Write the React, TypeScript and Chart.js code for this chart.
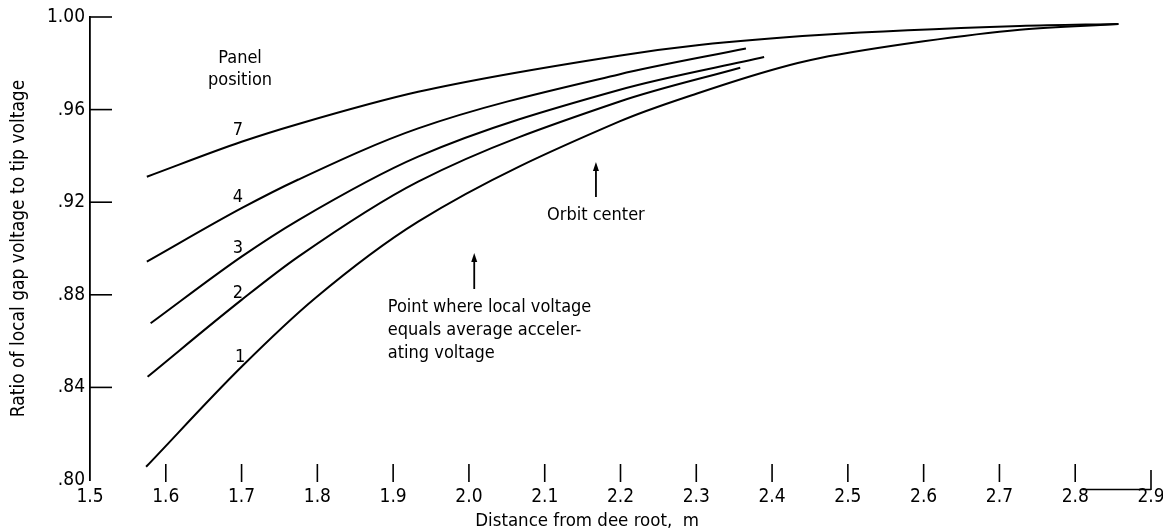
import { useEffect, useRef } from "react";
import { Chart, registerables } from "chart.js";

Chart.register(...registerables);

const FONT = "'DejaVu Sans Condensed', 'Liberation Sans Narrow', 'DejaVu Sans', sans-serif";

const xTickValues = [1.5, 1.6, 1.7, 1.8, 1.9, 2.0, 2.1, 2.2, 2.3, 2.4, 2.5, 2.6, 2.7, 2.8, 2.9];
const xTickLabels = ["1.5", "1.6", "1.7", "1.8", "1.9", "2.0", "2.1", "2.2", "2.3", "2.4", "2.5", "2.6", "2.7", "2.8", "2.9"];
const yTickValues = [0.8, 0.84, 0.88, 0.92, 0.96, 1.0];
const yTickLabels = [".80", ".84", ".88", ".92", ".96", "1.00"];

// Panel position 7
const p7X = [1.575, 1.7, 1.775, 1.933, 2.198, 2.304, 2.462, 2.727, 2.857];
const p7Y = [0.931, 0.9461, 0.9538, 0.9677, 0.9833, 0.9879, 0.9922, 0.9961, 0.997];
// Panel position 4
const p4X = [1.575, 1.7, 1.775, 1.933, 2.198, 2.3655];
const p4Y = [0.8943, 0.9174, 0.9298, 0.9519, 0.9752, 0.9864];
// Panel position 3
const p3X = [1.58, 1.7, 1.775, 1.933, 2.198, 2.3895];
const p3Y = [0.8677, 0.8965, 0.9123, 0.9397, 0.9685, 0.9827];
// Panel position 2
const p2X = [1.576, 1.7, 1.775, 1.933, 2.198, 2.358];
const p2Y = [0.8446, 0.8778, 0.8965, 0.9289, 0.9634, 0.9781];
// Panel position 1
const p1X = [1.574, 1.7, 1.797, 1.933, 2.198, 2.304, 2.409, 2.462, 2.6, 2.727, 2.857];
const p1Y = [0.8057, 0.8489, 0.8785, 0.9116, 0.9548, 0.9673, 0.978, 0.9822, 0.9895, 0.9945, 0.997];

const seriesX = [p7X, p4X, p3X, p2X, p1X];
const seriesY = [p7Y, p4Y, p3Y, p2Y, p1Y];
const seriesNames = ["7", "4", "3", "2", "1"];

// Curve labels (x, baseline y in data units)
const curveLabelX = [1.6953, 1.6953, 1.6953, 1.6953, 1.698];
const curveLabelY = [0.949, 0.9202, 0.8979, 0.8785, 0.851];

const panelTitle = ["Panel", "position"];
const panelTitleX = 1.698;
const panelTitleY = [0.98, 0.9706];

const pointNote = ["Point where local voltage", "equals average acceler-", "ating voltage"];
const pointNoteX = 1.893;
const pointNoteY = [0.8727, 0.8626, 0.8526];
const pointArrowX = 2.007;
const pointArrowY = [0.8825, 0.8981];

const orbitNote = "Orbit center";
const orbitNoteX = 2.103;
const orbitNoteY = 0.9123;
const orbitArrowX = 2.1676;
const orbitArrowY = [0.92225, 0.93737];

const xTitle = "Distance from dee root,  m";
const xTitleX = 2.156;
const yTitle = "Ratio of local gap voltage to tip voltage";

export default function App() {
  const ref = useRef<HTMLCanvasElement | null>(null);

  useEffect(() => {
    const canvas = ref.current;
    if (!canvas) return;

    const decor = {
      id: "decor",
      afterDraw(chart: any) {
        const ctx = chart.ctx as CanvasRenderingContext2D;
        const xs = chart.scales.x;
        const ys = chart.scales.y;
        const area = chart.chartArea;
        ctx.save();
        ctx.strokeStyle = "#000";
        ctx.fillStyle = "#000";
        ctx.lineWidth = 1.6;
        // y tick marks (inward)
        yTickValues.forEach((v) => {
          if (v === yTickValues[0]) return;
          const py = ys.getPixelForValue(v);
          ctx.beginPath();
          ctx.moveTo(area.left, py);
          ctx.lineTo(area.left + 22, py);
          ctx.stroke();
        });
        // x tick marks
        xTickValues.forEach((v, i) => {
          if (i === 0) return;
          const px = xs.getPixelForValue(v);
          const last = i === xTickValues.length - 1;
          ctx.beginPath();
          ctx.moveTo(px, area.bottom - (last ? 10 : 16));
          ctx.lineTo(px, area.bottom + (last ? 10 : 2));
          ctx.stroke();
        });
        // bracket between 2.8 and 2.9
        {
          const a = xs.getPixelForValue(xTickValues[xTickValues.length - 2]) + 7;
          const b = xs.getPixelForValue(xTickValues[xTickValues.length - 1]);
          ctx.lineWidth = 1.3;
          ctx.beginPath();
          ctx.moveTo(a, area.bottom + 9.5);
          ctx.lineTo(b, area.bottom + 9.5);
          ctx.stroke();
        }
        // texts
        ctx.font = `18px ${FONT}`;
        ctx.textBaseline = "alphabetic";
        ctx.textAlign = "center";
        seriesNames.forEach((n, i) => {
          ctx.fillText(n, xs.getPixelForValue(curveLabelX[i]), ys.getPixelForValue(curveLabelY[i]));
        });
        panelTitle.forEach((t, i) => {
          ctx.fillText(t, xs.getPixelForValue(panelTitleX), ys.getPixelForValue(panelTitleY[i]));
        });
        ctx.textAlign = "left";
        pointNote.forEach((t, i) => {
          ctx.fillText(t, xs.getPixelForValue(pointNoteX), ys.getPixelForValue(pointNoteY[i]));
        });
        ctx.fillText(orbitNote, xs.getPixelForValue(orbitNoteX), ys.getPixelForValue(orbitNoteY));
        // arrows
        const arrow = (xv: number, y0: number, y1: number) => {
          const px = xs.getPixelForValue(xv);
          const pb = ys.getPixelForValue(y0);
          const pt = ys.getPixelForValue(y1);
          ctx.lineWidth = 1.8;
          ctx.beginPath();
          ctx.moveTo(px, pb);
          ctx.lineTo(px, pt + 6);
          ctx.stroke();
          ctx.beginPath();
          ctx.moveTo(px, pt);
          ctx.lineTo(px - 3, pt + 9);
          ctx.lineTo(px + 3, pt + 9);
          ctx.closePath();
          ctx.fill();
        };
        arrow(pointArrowX, pointArrowY[0], pointArrowY[1]);
        arrow(orbitArrowX, orbitArrowY[0], orbitArrowY[1]);
        // x axis title
        ctx.textAlign = "center";
        ctx.font = `18.5px ${FONT}`;
        ctx.fillText(xTitle, xs.getPixelForValue(xTitleX), area.bottom + 46);
        ctx.restore();
      },
    };

    const chart = new Chart(canvas, {
      type: "line",
      data: {
        datasets: seriesX.map((xsArr, i) => ({
          label: seriesNames[i],
          data: xsArr.map((x, j) => ({ x, y: seriesY[i][j] })),
          borderColor: "#000",
          borderWidth: 2,
          pointRadius: 0,
          fill: false,
          cubicInterpolationMode: "monotone" as const,
        })),
      },
      options: {
        animation: false,
        responsive: false,
        devicePixelRatio: 1,
        layout: { padding: { top: 17, left: 0, right: 29, bottom: 0 } },
        plugins: { legend: { display: false }, tooltip: { enabled: false } },
        scales: {
          x: {
            type: "linear",
            min: 1.5,
            max: 2.9,
            grid: { display: false, drawTicks: false },
            border: { display: false },
            afterBuildTicks: (s: any) => {
              s.ticks = xTickValues.map((v) => ({ value: v }));
            },
            afterFit: (s: any) => {
              s.height = 52;
            },
            ticks: {
              autoSkip: false,
              maxRotation: 0,
              padding: 6,
              color: "#000",
              font: { family: FONT, size: 19 },
              callback: (_v: any, i: number) => xTickLabels[i],
            },
          },
          y: {
            type: "linear",
            min: 0.8,
            max: 1.0,
            grid: { display: false, drawTicks: false },
            border: { display: true, color: "#000", width: 1.8 },
            afterBuildTicks: (s: any) => {
              s.ticks = yTickValues.map((v) => ({ value: v }));
            },
            afterFit: (s: any) => {
              s.width = 90;
            },
            ticks: {
              padding: 5,
              color: "#000",
              font: { family: FONT, size: 19 },
              callback: (_v: any, i: number) => yTickLabels[i],
            },
            title: {
              display: true,
              text: yTitle,
              color: "#000",
              font: { family: FONT, size: 19 },
              padding: { top: 8, bottom: 0 },
            },
          },
        },
      },
      plugins: [decor],
    });

    return () => chart.destroy();
  }, []);

  return (
    <div
      style={{
        position: "fixed",
        left: 0,
        top: 0,
        width: 1163,
        height: 532,
        overflow: "hidden",
        background: "#fff",
      }}
    >
      <canvas ref={ref} width={1180} height={532} style={{ width: 1180, height: 532, display: "block" }} />
    </div>
  );
}
